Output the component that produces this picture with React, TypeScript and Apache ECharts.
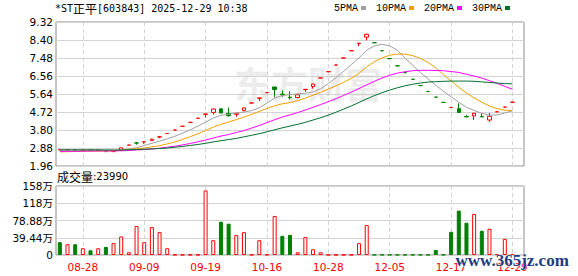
import React, { useEffect, useRef } from 'react';
import * as echarts from 'echarts';

const dates = [
  '08-25','08-26','08-27','08-28','08-29','09-01','09-02','09-03','09-04','09-05',
  '09-08','09-09','09-10','09-11','09-12','09-15','09-16','09-17','09-18','09-19',
  '09-22','09-23','09-24','09-25','09-26','10-14','10-15','10-16','10-17','10-20',
  '10-21','10-22','10-23','10-24','10-27','10-28','10-29','10-30','10-31','11-03',
  '11-04','11-05','12-04','12-05','12-08','12-09','12-10','12-11','12-12','12-15',
  '12-16','12-17','12-18','12-19','12-22','12-23','12-24','12-25','12-26','12-29',
  ''
];

const opens = [
  2.79,2.79,2.80,2.78,2.79,2.78,2.75,2.71,2.75,3.03,
  3.14,3.19,3.27,3.44,3.62,3.80,3.99,4.19,4.40,4.60,
  4.70,4.88,4.65,4.60,4.80,5.18,5.42,5.71,6.00,5.63,
  5.48,5.46,5.86,6.02,6.46,6.78,7.12,7.48,7.85,8.22,
  8.55,8.26,7.85,7.45,7.08,6.73,6.39,6.07,5.77,5.48,
  5.21,4.95,4.89,4.49,4.52,4.49,4.31,4.73,4.97,5.22
];
const closes = [
  2.80,2.80,2.78,2.79,2.78,2.77,2.72,2.73,2.89,3.03,
  3.13,3.20,3.33,3.45,3.62,3.80,3.99,4.19,4.40,4.62,
  4.87,4.67,4.53,4.66,4.93,5.18,5.44,5.71,5.87,5.60,
  5.45,5.60,5.88,6.15,6.46,6.78,7.12,7.48,7.85,8.24,
  8.69,8.26,7.85,7.45,7.08,6.73,6.39,6.07,5.77,5.48,
  5.21,4.95,4.70,4.47,4.66,4.47,4.50,4.73,4.97,5.22
];
const lows = [
  2.76,2.77,2.77,2.77,2.77,2.76,2.66,2.66,2.74,3.03,
  3.05,3.10,3.24,3.38,3.62,3.80,3.99,4.19,4.40,4.44,
  4.59,4.66,4.48,4.48,4.75,5.18,5.28,5.71,5.47,5.50,
  5.36,5.42,5.76,5.91,6.46,6.78,7.12,7.48,7.85,8.08,
  8.38,8.26,7.85,7.45,7.08,6.73,6.39,6.07,5.77,5.48,
  5.21,4.95,4.70,4.47,4.31,4.46,4.22,4.73,4.97,5.22
];
const highs = [
  2.83,2.82,2.81,2.80,2.80,2.79,2.76,2.74,2.90,3.03,
  3.19,3.20,3.35,3.50,3.62,3.80,3.99,4.19,4.40,4.62,
  4.90,4.90,4.95,4.67,4.94,5.18,5.44,5.71,6.00,5.82,
  5.78,5.62,5.88,6.17,6.46,6.78,7.12,7.48,7.85,8.24,
  8.72,8.26,7.85,7.45,7.08,6.73,6.39,6.07,5.77,5.48,
  5.21,4.95,5.17,4.57,4.67,4.65,4.67,4.73,4.97,5.22
];
// day drawn red although it closed flat at the lower price
const redDoji = [51];

const ma5 = [
  2.79,2.79,2.79,2.79,2.79,2.78,2.77,2.76,2.78,2.83,
  2.90,3.00,3.12,3.23,3.35,3.48,3.64,3.81,4.00,4.20,
  4.41,4.55,4.61,4.66,4.72,4.79,4.94,5.18,5.43,5.56,
  5.61,5.65,5.68,5.74,5.91,6.17,6.48,6.80,7.14,7.49,
  7.88,8.10,8.18,8.10,7.87,7.47,7.10,6.74,6.41,6.09,
  5.78,5.50,5.22,4.96,4.80,4.65,4.56,4.57,4.67,4.78
];
const ma10 = [
  2.68,2.69,2.70,2.71,2.72,2.72,2.73,2.74,2.77,2.81,
  2.84,2.88,2.94,3.00,3.09,3.19,3.32,3.46,3.61,3.77,
  3.95,4.09,4.21,4.33,4.46,4.60,4.75,4.90,5.04,5.14,
  5.20,5.30,5.43,5.58,5.73,5.89,6.06,6.24,6.44,6.70,
  7.03,7.29,7.49,7.62,7.68,7.68,7.60,7.46,7.25,6.98,
  6.63,6.30,5.98,5.69,5.44,5.22,5.03,4.89,4.81,4.79
];
const ma20 = [
  2.71,2.71,2.71,2.72,2.72,2.73,2.73,2.73,2.74,2.75,
  2.78,2.80,2.83,2.87,2.92,2.97,3.04,3.11,3.20,3.29,
  3.39,3.49,3.57,3.67,3.77,3.90,4.03,4.18,4.33,4.46,
  4.57,4.69,4.82,4.96,5.10,5.25,5.40,5.57,5.74,5.92,
  6.11,6.29,6.46,6.60,6.71,6.78,6.83,6.85,6.85,6.84,
  6.83,6.79,6.74,6.65,6.56,6.45,6.32,6.18,6.03,5.88
];
const ma30 = [
  2.78,2.78,2.78,2.78,2.78,2.78,2.78,2.78,2.78,2.79,
  2.80,2.82,2.83,2.86,2.88,2.92,2.96,3.01,3.06,3.12,
  3.19,3.25,3.31,3.37,3.45,3.53,3.61,3.71,3.81,3.91,
  4.00,4.09,4.19,4.31,4.43,4.56,4.71,4.87,5.03,5.21,
  5.39,5.56,5.71,5.84,5.96,6.06,6.14,6.20,6.25,6.27,
  6.29,6.30,6.30,6.30,6.29,6.26,6.23,6.20,6.17,6.16
];

// volume in 万
const volumes = [
  29.3,24.6,24.6,15.4,10.8,15.4,18.5,27.0,42.3,6.2,
  66.2,29.3,63.8,52.3,15.4,0.6,0.5,0.5,0.6,147.6,
  33.9,76.1,71.5,45.4,52.3,0.6,33.9,0.8,89.3,43.8,
  46.1,6.2,40.8,13.1,6.2,0.5,0.4,0.4,0.5,27.0,
  68.5,0.5,0.5,0.5,0.5,0.5,0.5,0.5,0.5,11.5,
  0.6,53.0,101.5,73.8,93.9,55.4,60.0,2.0,36.9,2.399
];
// 1 = up (red hollow), -1 = down (green solid)
const volumeDir = [
  -1,1,-1,1,-1,1,-1,1,1,1,
  1,1,1,1,1,1,1,1,1,1,
  1,-1,-1,1,1,1,1,1,1,-1,
  -1,1,1,1,1,1,1,1,1,1,
  1,-1,-1,-1,-1,-1,-1,-1,-1,-1,
  -1,-1,-1,-1,1,-1,1,1,1,1
];

const priceTicks = { min: 1.96, max: 9.32, step: 0.92 };
const volumeTicks = { min: 0, max: 157.76, step: 39.44 };

const maNames = ['5PMA', '10PMA', '20PMA', '30PMA'];
const maColors = ['#a0a0a0', '#f0a000', '#ff00ff', '#006f2e'];

const RED = '#ff0000';
const GREEN = '#008000';
const GRID_LINE = '#d4d4d4';
const FRAME = '#8c8c8c';
const NUM_FONT = "'DejaVu Sans', 'Noto Sans CJK SC', sans-serif";

const labelEvery = (i: number) => i % 8 === 3;

export default function App() {
  const ref = useRef<HTMLDivElement>(null);

  useEffect(() => {
    if (!ref.current) return;
    const chart = echarts.init(ref.current, null, { renderer: 'svg' });

    const candleData = opens.map((o, i) => {
      const item: any = { value: [o, closes[i], lows[i], highs[i]] };
      if (redDoji.includes(i)) {
        item.itemStyle = { color: '#fff', color0: '#fff', borderColor: RED, borderColor0: RED };
      }
      return item;
    });

    const volData = volumes.map((v, i) => ({
      value: v,
      itemStyle: volumeDir[i] > 0
        ? { color: '#fff', borderColor: RED, borderWidth: 1 }
        : { color: GREEN, borderColor: GREEN, borderWidth: 1 },
    }));

    const maSeries = [ma5, ma10, ma20, ma30].map((d, k) => ({
      name: maNames[k],
      type: 'line',
      xAxisIndex: 0,
      yAxisIndex: 0,
      data: d,
      showSymbol: false,
      symbol: 'none',
      color: maColors[k],
      itemStyle: { color: maColors[k] },
      lineStyle: { width: 1, color: maColors[k] },
      z: 3,
    }));

    const xBase = (gi: number, showLabel: boolean) => ({
      type: 'category',
      gridIndex: gi,
      data: dates,
      boundaryGap: true,
      axisLine: { show: false },
      axisTick: { show: false },
      axisLabel: {
        show: showLabel,
        interval: labelEvery,
        color: RED,
        fontFamily: NUM_FONT,
        fontSize: 10.5,
        margin: 7,
      },
      splitLine: {
        show: true,
        interval: labelEvery,
        alignWithLabel: true,
        lineStyle: { color: GRID_LINE, type: [4, 3], width: 1 },
      },
    });

    const option: any = {
      animation: false,
      backgroundColor: '#ffffff',
      title: [
        {
          text: '{m|*ST}{c|正平}{m|[603843] 2025-12-29 10:38}',
          left: 55,
          top: 2,
          padding: 0,
          textStyle: {
            fontWeight: 'normal',
            rich: {
              m: { fontFamily: "'DejaVu Sans Mono', monospace", fontSize: 10, fontWeight: 'normal', color: '#000' },
              c: { fontFamily: "'Noto Sans CJK SC'", fontSize: 12, fontWeight: 'normal', color: '#000' },
            },
          },
        },
        {
          text: '{c|成交量}{n|:23990}',
          left: 57,
          top: 170,
          padding: 0,
          textStyle: {
            fontWeight: 'normal',
            rich: {
              c: { fontFamily: "'Noto Sans CJK SC'", fontSize: 12, fontWeight: 'normal', color: '#000' },
              n: { fontFamily: "'DejaVu Sans'", fontSize: 10, fontWeight: 'normal', color: '#000' },
            },
          },
        },
      ],
      legend: {
        data: maNames,
        right: 68,
        top: 3,
        align: 'right',
        icon: 'rect',
        itemWidth: 5,
        itemHeight: 4,
        itemGap: 10,
        padding: 0,
        selectedMode: false,
        textStyle: { fontFamily: "'Liberation Mono', monospace", fontSize: 10, color: '#000', padding: [0, -2, 0, 0] },
      },
      grid: [
        { left: 56, top: 22, width: 468, height: 144, show: true, borderColor: FRAME, borderWidth: 1, backgroundColor: 'transparent' },
        { left: 56, top: 186, width: 468, height: 69, show: true, borderColor: FRAME, borderWidth: 1, backgroundColor: 'transparent' },
      ],
      xAxis: [xBase(0, false), xBase(1, true)],
      yAxis: [
        {
          type: 'value',
          gridIndex: 0,
          min: priceTicks.min,
          max: priceTicks.max,
          interval: priceTicks.step,
          axisLine: { show: false },
          axisTick: { show: false },
          axisLabel: {
            color: '#000',
            fontFamily: NUM_FONT,
            fontSize: 10.5,
            margin: 3,
            formatter: (v: number) => v.toFixed(2),
          },
          splitLine: { show: true, lineStyle: { color: GRID_LINE, width: 1 } },
        },
        {
          type: 'value',
          gridIndex: 1,
          min: volumeTicks.min,
          max: volumeTicks.max,
          interval: volumeTicks.step,
          axisLine: { show: false },
          axisTick: { show: false },
          axisLabel: {
            color: '#000',
            fontFamily: NUM_FONT,
            fontSize: 10.5,
            margin: 3,
            formatter: (v: number) => {
              if (v === 0) return '0';
              if (v >= 100) return Math.round(v) + '万';
              return v.toFixed(2) + '万';
            },
          },
          splitLine: { show: true, lineStyle: { color: GRID_LINE, width: 1 } },
        },
      ],
      series: [
        {
          name: 'K',
          type: 'candlestick',
          xAxisIndex: 0,
          yAxisIndex: 0,
          data: candleData,
          barWidth: 4,
          itemStyle: {
            color: '#fff',
            color0: GREEN,
            borderColor: RED,
            borderColor0: GREEN,
            borderWidth: 1,
          },
          z: 2,
        },
        ...maSeries,
        {
          name: 'VOL',
          type: 'bar',
          xAxisIndex: 1,
          yAxisIndex: 1,
          data: volData,
          barWidth: 4,
        },
      ],
      graphic: [
        {
          type: 'text',
          left: 234,
          top: 64,
          z: 1,
          silent: true,
          style: {
            text: '东方财富',
            fontSize: 37,
            fontWeight: 'bold',
            fontFamily: "'Noto Sans CJK SC'",
            fill: 'rgba(200,200,200,0.35)',
          },
        },
        {
          type: 'text',
          left: 455,
          top: 251,
          z: 100,
          silent: true,
          style: {
            text: 'www.365jz.com',
            fontSize: 17,
            fontWeight: 'bold',
            fontFamily: "'Liberation Serif', serif",
            fill: '#1f3c7c',
            stroke: 'rgba(255,255,255,0.8)',
            lineWidth: 1,
          },
        },
      ],
    };

    chart.setOption(option);
    return () => chart.dispose();
  }, []);

  return (
    <div
      ref={ref}
      style={{ position: 'fixed', left: 0, top: 0, width: 578, height: 276, background: '#fff' }}
    />
  );
}
